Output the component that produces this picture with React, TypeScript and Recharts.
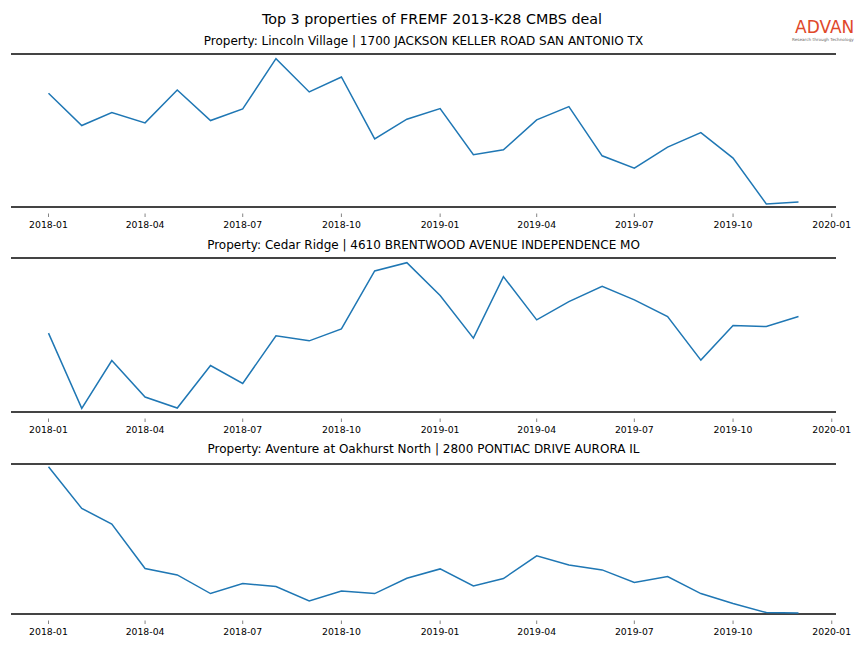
import React from "react";
import { LineChart, Line, XAxis, YAxis, ReferenceLine } from "recharts";

const months = [
  "2018-01", "2018-02", "2018-03", "2018-04", "2018-05", "2018-06",
  "2018-07", "2018-08", "2018-09", "2018-10", "2018-11", "2018-12",
  "2019-01", "2019-02", "2019-03", "2019-04", "2019-05", "2019-06",
  "2019-07", "2019-08", "2019-09", "2019-10", "2019-11", "2019-12",
];

const lincolnVillage = [
  114.0, 81.6, 94.6, 84.3, 117.3, 86.6, 98.3, 148.6, 115.3, 130.3, 68.3, 88.0,
  98.6, 52.3, 57.3, 87.3, 100.6, 51.3, 39.0, 60.0, 74.6, 49.0, 3.0, 5.0,
];
const cedarRidge = [
  79.0, 3.6, 51.6, 15.0, 4.0, 46.6, 28.6, 76.3, 71.3, 83.3, 141.3, 149.6,
  116.8, 74.0, 135.6, 92.3, 110.6, 126.0, 112.3, 95.6, 52.0, 86.6, 85.6, 95.6,
];
const aventure = [
  147.0, 105.4, 89.7, 45.4, 39.0, 20.4, 30.4, 27.4, 13.0, 23.0, 20.4, 35.7,
  45.0, 28.0, 35.4, 58.0, 49.0, 44.0, 31.4, 37.4, 20.4, 10.4, 1.4, 1.0,
];

const tickLabels = [
  "2018-01", "2018-04", "2018-07", "2018-10", "2019-01",
  "2019-04", "2019-07", "2019-10", "2020-01",
];

const mainTitle = "Top 3 properties of FREMF 2013-K28 CMBS deal";
const panelTitles = [
  "Property: Lincoln Village | 1700 JACKSON KELLER ROAD SAN ANTONIO TX",
  "Property: Cedar Ridge | 4610 BRENTWOOD AVENUE INDEPENDENCE MO",
  "Property: Aventure at Oakhurst North | 2800 PONTIAC DRIVE AURORA IL",
];

const DAY = 86400000;
const BASE = Date.UTC(2018, 0, 1);
const toDay = (s: string) => {
  const [y, m] = s.split("-").map(Number);
  return (Date.UTC(y, m - 1, 1) - BASE) / DAY;
};

const tickDays = tickLabels.map(toDay);
const firstDay = toDay(months[0]);
const lastDay = toDay(months[months.length - 1]);
const pad = (lastDay - firstDay) * 0.05;
const xDomain: [number, number] = [firstDay - pad, lastDay + pad];

const FONT = "DejaVu Sans, Liberation Sans, sans-serif";

const DateTick = (props: any) => {
  const { x, y, payload } = props;
  const idx = tickDays.indexOf(payload.value);
  const label = idx >= 0 ? tickLabels[idx] : "";
  return (
    <g>
      <line x1={x} x2={x} y1={y + 6.5} y2={y + 10} stroke="#666" strokeWidth={0.8} />
      <text x={x} y={y + 21} textAnchor="middle" fontSize={9.3} fontFamily={FONT} fill="#000">
        {label}
      </text>
    </g>
  );
};

type PanelProps = { values: number[]; top: number; plotH: number; yMax: number };

const Panel = ({ values, top, plotH, yMax }: PanelProps) => {
  const data = months.map((m, i) => ({ t: toDay(m), v: values[i] }));
  const mTop = 5;
  const axisH = 30;
  return (
    <div style={{ position: "absolute", left: 0, top: top - mTop }}>
      <LineChart
        width={864}
        height={mTop + plotH + axisH}
        data={data}
        margin={{ top: mTop, right: 28, bottom: 0, left: 11 }}
      >
        <XAxis
          dataKey="t"
          type="number"
          domain={xDomain}
          ticks={tickDays}
          tick={<DateTick />}
          tickLine={false}
          axisLine={false}
          tickSize={0}
          tickMargin={0}
          height={axisH}
          interval={0}
          allowDataOverflow
        />
        <YAxis hide type="number" domain={[0, yMax]} allowDataOverflow />
        <ReferenceLine y={yMax} stroke="#444" strokeWidth={2} />
        <ReferenceLine y={0} stroke="#444" strokeWidth={2} />
        <Line
          type="linear"
          dataKey="v"
          stroke="#1f77b4"
          strokeWidth={1.5}
          dot={false}
          isAnimationActive={false}
        />
      </LineChart>
    </div>
  );
};

const titleStyle = (top: number, size: number): React.CSSProperties => ({
  position: "absolute",
  left: 11,
  width: 825,
  top,
  textAlign: "center",
  fontFamily: FONT,
  fontSize: size,
  color: "#000",
  whiteSpace: "nowrap",
  lineHeight: "1",
});

export default function App() {
  return (
    <div
      style={{
        position: "absolute",
        left: 0,
        top: 0,
        width: 864,
        height: 648,
        background: "#fff",
        overflow: "hidden",
      }}
    >
      <div style={{ ...titleStyle(12, 14.3), left: 0, width: 864 }}>{mainTitle}</div>
      <div
        style={{
          position: "absolute",
          left: 795,
          top: 18.5,
          fontFamily: FONT,
          fontSize: 17,
          color: "#e0482a",
          lineHeight: "1",
          whiteSpace: "nowrap",
        }}
      >
        ADVAN
      </div>
      <div
        style={{
          position: "absolute",
          left: 792,
          top: 37.5,
          fontFamily: FONT,
          fontSize: 4.2,
          color: "#666",
          whiteSpace: "nowrap",
          lineHeight: "1",
        }}
      >
        Research through Technology
      </div>

      <div style={titleStyle(35, 12)}>{panelTitles[0]}</div>
      <div style={titleStyle(239, 12)}>{panelTitles[1]}</div>
      <div style={titleStyle(443, 12)}>{panelTitles[2]}</div>

      <Panel values={lincolnVillage} top={54} plotH={153} yMax={153.3} />
      <Panel values={cedarRidge} top={258} plotH={154} yMax={154.3} />
      <Panel values={aventure} top={464} plotH={150} yMax={149.7} />
    </div>
  );
}
